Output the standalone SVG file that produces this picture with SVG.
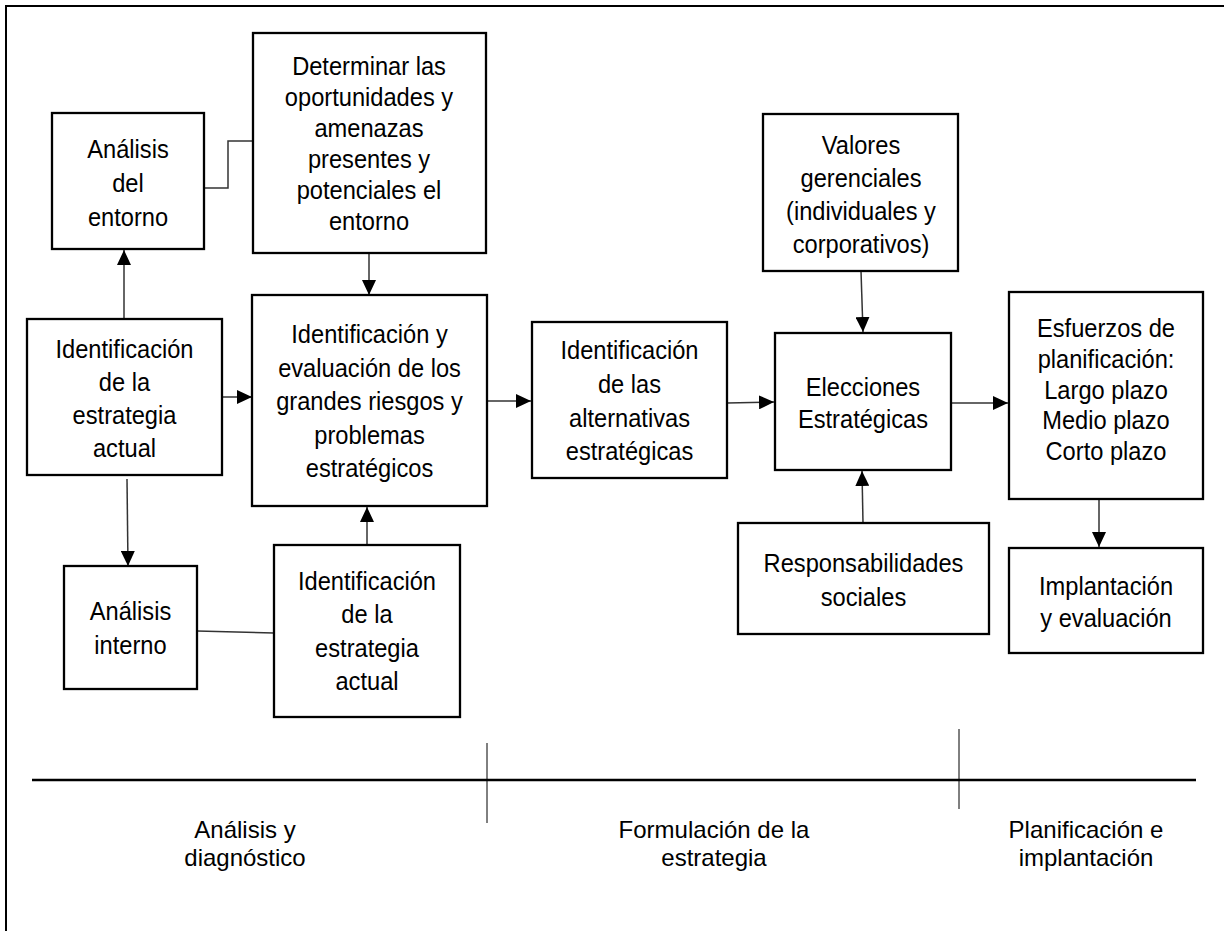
<svg xmlns="http://www.w3.org/2000/svg" width="1224" height="931" viewBox="0 0 1224 931">
<style>
.box{fill:#fff;stroke:#000;stroke-width:2.3}
.t{font-family:"Liberation Sans",Arial,sans-serif;font-size:26px;fill:#000;text-anchor:middle}
.lbl{font-family:"Liberation Sans",Arial,sans-serif;font-size:24px;fill:#000;text-anchor:middle}
.c{fill:none;stroke:#333;stroke-width:1.5}
.a{marker-end:url(#arr)}
.frame{fill:none;stroke:#000;stroke-width:2}
</style>
<defs>
<marker id="arr" viewBox="0 0 10 10" refX="10" refY="5" markerUnits="userSpaceOnUse" markerWidth="15" markerHeight="14" orient="auto" preserveAspectRatio="none">
<path d="M0,0 L10,5 L0,10 z" fill="#000"/>
</marker>
</defs>
<rect width="1224" height="931" fill="#fff"/>
<path class="frame" d="M6,931 V6 H1224"/>

<g id="connectors">
<polyline class="c" points="204,188 228,188 228,141 253,141"/>
<line class="c a" x1="124" y1="319" x2="124" y2="250"/>
<line class="c a" x1="369" y1="253" x2="369" y2="295"/>
<line class="c a" x1="222" y1="397" x2="252" y2="397"/>
<line class="c a" x1="127" y1="479" x2="128" y2="566"/>
<line class="c" x1="197" y1="631" x2="274" y2="633"/>
<line class="c a" x1="367" y1="545" x2="367" y2="507"/>
<line class="c a" x1="487" y1="401" x2="531" y2="401"/>
<line class="c a" x1="727" y1="403" x2="774" y2="402"/>
<line class="c a" x1="861" y1="271" x2="863" y2="332"/>
<line class="c a" x1="863" y1="523" x2="862" y2="471"/>
<line class="c a" x1="951" y1="403" x2="1008" y2="403"/>
<line class="c a" x1="1099" y1="499" x2="1099" y2="547"/>
</g>

<g id="analisis-entorno">
<rect class="box" x="52" y="113" width="152" height="136"/>
<text class="t" transform="matrix(0.91 0 0 1 128 0)"><tspan x="0" y="158">Análisis</tspan><tspan x="0" y="192">del</tspan><tspan x="0" y="226">entorno</tspan></text>
</g>

<g id="determinar">
<rect class="box" x="253" y="33" width="233" height="220"/>
<text class="t" transform="matrix(0.91 0 0 1 369 0)"><tspan x="0" y="75">Determinar las</tspan><tspan x="0" y="106">oportunidades y</tspan><tspan x="0" y="137">amenazas</tspan><tspan x="0" y="168">presentes y</tspan><tspan x="0" y="199">potenciales el</tspan><tspan x="0" y="230">entorno</tspan></text>
</g>

<g id="identificacion-estrategia-1">
<rect class="box" x="27" y="319" width="195" height="156"/>
<text class="t" transform="matrix(0.91 0 0 1 124.5 0)"><tspan x="0" y="358">Identificación</tspan><tspan x="0" y="391">de la</tspan><tspan x="0" y="424">estrategia</tspan><tspan x="0" y="457">actual</tspan></text>
</g>

<g id="evaluacion-riesgos">
<rect class="box" x="252" y="295" width="235" height="211"/>
<text class="t" transform="matrix(0.91 0 0 1 369.5 0)"><tspan x="0" y="343">Identificación y</tspan><tspan x="0" y="377">evaluación de los</tspan><tspan x="0" y="410">grandes riesgos y</tspan><tspan x="0" y="444">problemas</tspan><tspan x="0" y="477">estratégicos</tspan></text>
</g>

<g id="analisis-interno">
<rect class="box" x="64" y="566" width="133" height="123"/>
<text class="t" transform="matrix(0.91 0 0 1 130.5 0)"><tspan x="0" y="620">Análisis</tspan><tspan x="0" y="654">interno</tspan></text>
</g>

<g id="identificacion-estrategia-2">
<rect class="box" x="274" y="545" width="186" height="172"/>
<text class="t" transform="matrix(0.91 0 0 1 367 0)"><tspan x="0" y="590">Identificación</tspan><tspan x="0" y="623">de la</tspan><tspan x="0" y="657">estrategia</tspan><tspan x="0" y="690">actual</tspan></text>
</g>

<g id="alternativas">
<rect class="box" x="532" y="322" width="195" height="156"/>
<text class="t" transform="matrix(0.91 0 0 1 629.5 0)"><tspan x="0" y="359">Identificación</tspan><tspan x="0" y="393">de las</tspan><tspan x="0" y="427">alternativas</tspan><tspan x="0" y="460">estratégicas</tspan></text>
</g>

<g id="valores">
<rect class="box" x="763" y="114" width="195" height="157"/>
<text class="t" transform="matrix(0.91 0 0 1 861 0)"><tspan x="0" y="154">Valores</tspan><tspan x="0" y="187">gerenciales</tspan><tspan x="0" y="220">(individuales y</tspan><tspan x="0" y="253">corporativos)</tspan></text>
</g>

<g id="elecciones">
<rect class="box" x="775" y="333" width="176" height="137"/>
<text class="t" transform="matrix(0.91 0 0 1 863 0)"><tspan x="0" y="396">Elecciones</tspan><tspan x="0" y="428">Estratégicas</tspan></text>
</g>

<g id="responsabilidades">
<rect class="box" x="738" y="523" width="251" height="111"/>
<text class="t" transform="matrix(0.91 0 0 1 863.5 0)"><tspan x="0" y="572">Responsabilidades</tspan><tspan x="0" y="606">sociales</tspan></text>
</g>

<g id="esfuerzos">
<rect class="box" x="1009" y="292" width="194" height="207"/>
<text class="t" transform="matrix(0.91 0 0 1 1106 0)"><tspan x="0" y="337">Esfuerzos de</tspan><tspan x="0" y="368">planificación:</tspan><tspan x="0" y="399">Largo plazo</tspan><tspan x="0" y="429">Medio plazo</tspan><tspan x="0" y="460">Corto plazo</tspan></text>
</g>

<g id="implantacion">
<rect class="box" x="1009" y="548" width="194" height="105"/>
<text class="t" transform="matrix(0.91 0 0 1 1106 0)"><tspan x="0" y="595">Implantación</tspan><tspan x="0" y="627">y evaluación</tspan></text>
</g>

<g id="timeline">
<line x1="32" y1="780" x2="1196" y2="780" stroke="#000" stroke-width="2.6"/>
<line x1="487" y1="743" x2="487" y2="823" stroke="#000" stroke-width="1"/>
<line x1="959" y1="729" x2="959" y2="809" stroke="#000" stroke-width="1"/>
<text class="lbl"><tspan x="245" y="838">Análisis y</tspan><tspan x="245" y="866">diagnóstico</tspan></text>
<text class="lbl"><tspan x="714" y="838">Formulación de la</tspan><tspan x="714" y="866">estrategia</tspan></text>
<text class="lbl"><tspan x="1086" y="838">Planificación e</tspan><tspan x="1086" y="866">implantación</tspan></text>
</g>
</svg>
